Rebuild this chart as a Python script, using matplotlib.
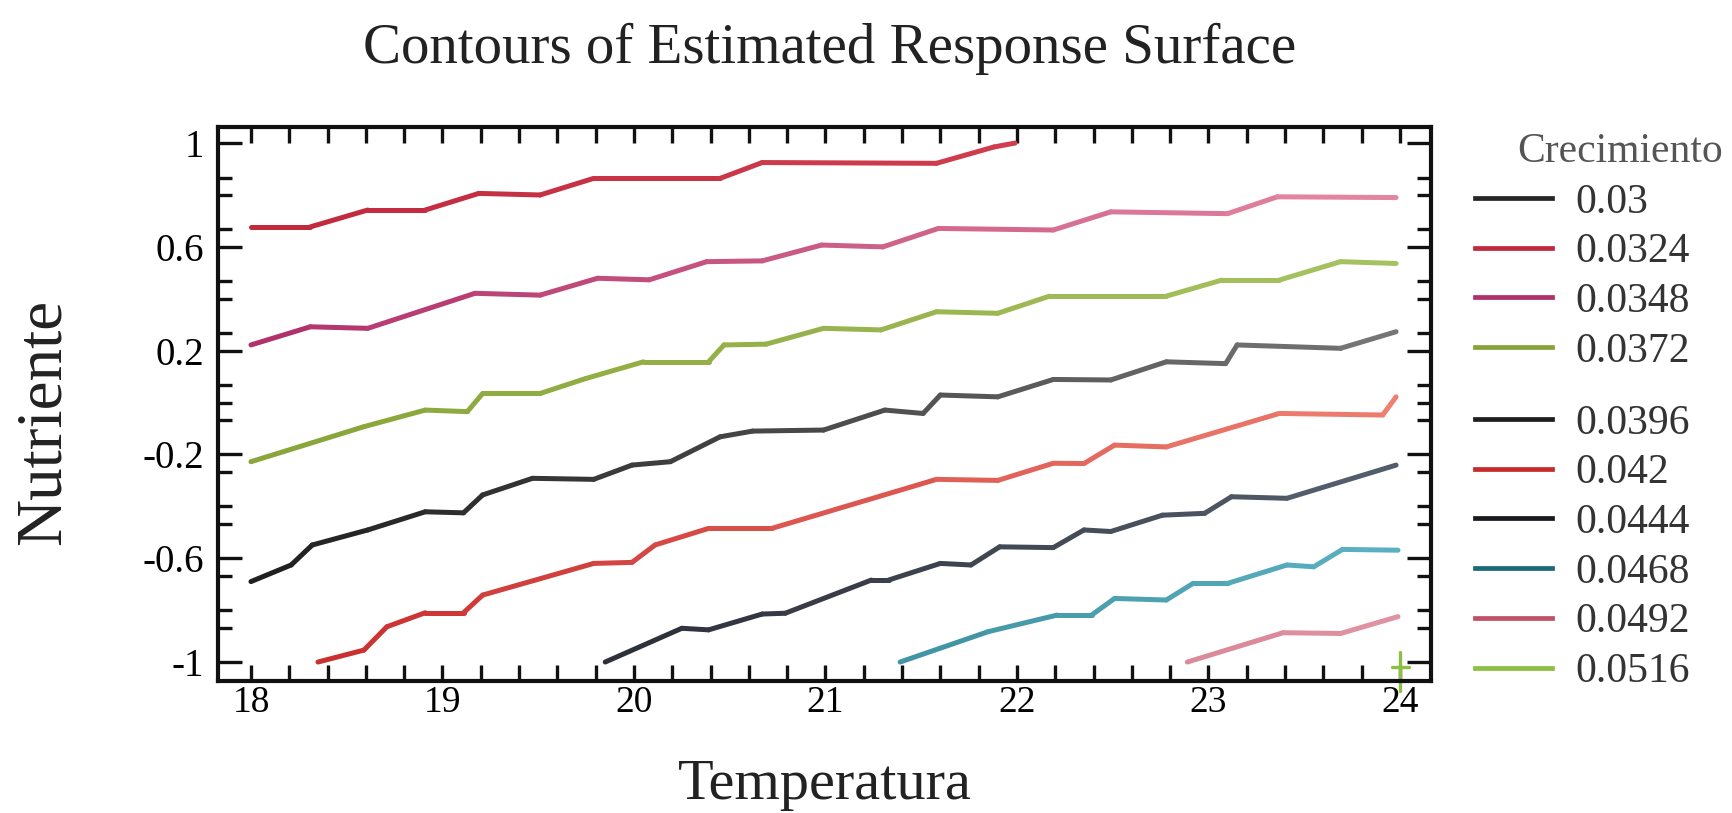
import matplotlib
matplotlib.use("Agg")
import matplotlib.pyplot as plt
import matplotlib.colors as mcolors
from matplotlib.collections import LineCollection
from matplotlib.lines import Line2D
import numpy as np

plt.rcParams["font.family"] = ["Liberation Serif", "DejaVu Serif"]

# contour levels (legend), shown in two blocks like the scan
levels_top = ["0.03", "0.0324", "0.0348", "0.0372"]
levels_bottom = ["0.0396", "0.042", "0.0444", "0.0468", "0.0492", "0.0516"]

# contour lines (Temperatura, Nutriente)
x_0324 = [18.0, 18.31, 18.61, 18.91, 19.19, 19.51, 19.79, 20.45, 20.67, 21.58, 21.88, 21.99]
y_0324 = [0.677, 0.677, 0.742, 0.742, 0.806, 0.80, 0.864, 0.864, 0.925, 0.922, 0.985, 1.0]

x_0348 = [18.0, 18.31, 18.61, 19.17, 19.51, 19.81, 20.08, 20.38, 20.67, 20.98, 21.30,
          21.59, 22.19, 22.49, 23.10, 23.36, 23.98]
y_0348 = [0.222, 0.292, 0.286, 0.421, 0.414, 0.479, 0.473, 0.543, 0.546, 0.607, 0.60,
          0.671, 0.665, 0.735, 0.728, 0.793, 0.79]

x_0372 = [18.0, 18.59, 18.91, 19.13, 19.21, 19.51, 19.75, 20.05, 20.39, 20.47, 20.69,
          20.99, 21.29, 21.58, 21.90, 22.17, 22.78, 23.07, 23.37, 23.69, 23.98]
y_0372 = [-0.228, -0.093, -0.029, -0.035, 0.035, 0.035, 0.093, 0.157, 0.157, 0.222, 0.225,
          0.286, 0.28, 0.35, 0.344, 0.41, 0.41, 0.472, 0.472, 0.543, 0.536]

x_0396 = [18.0, 18.21, 18.32, 18.61, 18.91, 19.11, 19.21, 19.47, 19.79, 19.99, 20.19,
          20.45, 20.62, 20.99, 21.31, 21.51, 21.60, 21.90, 22.19, 22.49, 22.78, 23.09,
          23.15, 23.69, 23.98]
y_0396 = [-0.69, -0.626, -0.549, -0.491, -0.421, -0.425, -0.356, -0.292, -0.296, -0.241, -0.228,
          -0.132, -0.11, -0.106, -0.029, -0.042, 0.029, 0.022, 0.089, 0.087, 0.157, 0.15,
          0.222, 0.209, 0.273]

x_0420 = [18.35, 18.59, 18.71, 18.91, 19.11, 19.21, 19.79, 19.99, 20.11, 20.39, 20.72,
          21.58, 21.90, 22.19, 22.35, 22.51, 22.78, 23.37, 23.91, 23.98]
y_0420 = [-1.0, -0.954, -0.864, -0.81, -0.81, -0.742, -0.62, -0.616, -0.549, -0.485, -0.485,
          -0.296, -0.30, -0.234, -0.235, -0.164, -0.171, -0.042, -0.048, 0.022]

x_0444 = [19.85, 20.25, 20.39, 20.67, 20.79, 21.24, 21.33, 21.60, 21.76, 21.91, 22.19,
          22.35, 22.49, 22.76, 22.98, 23.12, 23.41, 23.98]
y_0444 = [-1.0, -0.87, -0.876, -0.815, -0.812, -0.684, -0.684, -0.62, -0.626, -0.556, -0.559,
          -0.491, -0.497, -0.434, -0.427, -0.363, -0.369, -0.241]

x_0468 = [21.39, 21.85, 22.21, 22.39, 22.51, 22.78, 22.92, 23.10, 23.41, 23.55, 23.70, 23.99]
y_0468 = [-1.0, -0.883, -0.819, -0.819, -0.755, -0.761, -0.697, -0.697, -0.626, -0.633,
          -0.566, -0.569]

x_0492 = [22.89, 23.39, 23.69, 23.99]
y_0492 = [-1.0, -0.887, -0.89, -0.825]

# tiny mark of the last level in the lower right corner
x_0516_v = [24.0, 24.0]
y_0516_v = [-0.96, -1.11]
x_0516_h = [23.96, 24.05]
y_0516_h = [-1.02, -1.02]

x_ticks = [18, 19, 20, 21, 22, 23, 24]
y_ticks = [1, 0.6, 0.2, -0.2, -0.6, -1]
y_ticklabels = ["1", "0.6", "0.2", "-0.2", "-0.6", "-1"]

# colours: (left end, right end) of every line, scanned lines fade to the right
line_colors = {
    "0.03": ("#262626", "#262626"),
    "0.0324": ("#c0283c", "#d84a58"),
    "0.0348": ("#b0306a", "#e68aa2"),
    "0.0372": ("#88a438", "#a8c262"),
    "0.0396": ("#1e1e1e", "#777777"),
    "0.042": ("#c62a2a", "#ee8072"),
    "0.0444": ("#18181f", "#56606e"),
    "0.0468": ("#1a6a78", "#5cb2c2"),
    "0.0492": ("#c05068", "#e094a4"),
    "0.0516": ("#8cc040", "#8cc040"),
}


def draw_line(ax, xs, ys, level, lw=3.6):
    c0 = np.array(mcolors.to_rgb(line_colors[level][0]))
    c1 = np.array(mcolors.to_rgb(line_colors[level][1]))
    pts = np.column_stack([xs, ys])
    segs = np.stack([pts[:-1], pts[1:]], axis=1)
    mid = (segs[:, 0, 0] + segs[:, 1, 0]) / 2
    t = np.clip((mid - 18) / 6, 0, 1)[:, None]
    cols = c0 * (1 - t) + c1 * t
    lc = LineCollection(segs, colors=cols, linewidths=lw, capstyle="round",
                        joinstyle="round", clip_on=False)
    ax.add_collection(lc)


def add_legend(fig, levels, top_px):
    handles = [Line2D([], [], color=line_colors[lv][0], lw=3.4) for lv in levels]
    leg = fig.legend(handles, levels, loc="upper left",
                     bbox_to_anchor=(1475 / 1733, 1 - top_px / 813),
                     bbox_transform=fig.transFigure, frameon=False, fontsize=30,
                     handlelength=1.85, handletextpad=0.55, labelspacing=0.27,
                     borderpad=0, borderaxespad=0, labelcolor="#333333")
    return leg


fig = plt.figure(figsize=(17.33, 8.13), dpi=100)
ax = fig.add_axes([0.1258, 0.1624, 0.6999, 0.6814])

draw_line(ax, x_0324, y_0324, "0.0324")
draw_line(ax, x_0348, y_0348, "0.0348")
draw_line(ax, x_0372, y_0372, "0.0372")
draw_line(ax, x_0396, y_0396, "0.0396")
draw_line(ax, x_0420, y_0420, "0.042")
draw_line(ax, x_0444, y_0444, "0.0444")
draw_line(ax, x_0468, y_0468, "0.0468")
draw_line(ax, x_0492, y_0492, "0.0492")
draw_line(ax, x_0516_v, y_0516_v, "0.0516", lw=2.4)
draw_line(ax, x_0516_h, y_0516_h, "0.0516", lw=2.4)

ax.set_xlim(17.828, 24.162)
ax.set_ylim(-1.073, 1.062)

for s in ax.spines.values():
    s.set_linewidth(3.0)
    s.set_color("#111111")

ax.set_xticks(x_ticks)
ax.set_xticklabels([str(v) for v in x_ticks])
ax.set_xticks(np.arange(18.0, 24.01, 0.2), minor=True)
ax.set_yticks(y_ticks)
ax.set_yticklabels(y_ticklabels)
y_minor = [0.867, 0.8, 0.667, 0.467, 0.4, 0.267, 0.067, 0.0, -0.067, -0.267, -0.4,
           -0.467, -0.667, -0.8, -0.867]
ax.set_yticks(y_minor, minor=True)

ax.tick_params(axis="x", which="both", direction="in", top=True, bottom=True,
               length=11.5, width=2.4, labelsize=27, pad=3, color="#111111")
ax.tick_params(axis="y", which="major", direction="in", left=True, right=True,
               length=17, width=2.4, labelsize=28, pad=10, color="#111111")
ax.tick_params(axis="y", which="minor", direction="in", left=True, right=True,
               length=10, width=2.4, color="#111111")

fig.text(0.479, 1 - 63 / 813, "Contours of Estimated Response Surface",
         fontsize=41, ha="center", va="baseline", color="#222222")
fig.text(0.4758, 1 - 799 / 813, "Temperatura", fontsize=42, ha="center",
         va="baseline", color="#222222")
fig.text(44 / 1733, 1 - 422 / 813, "Nutriente", fontsize=47, ha="center",
         va="center", rotation=90, color="#222222")

add_legend(fig, levels_top, 183)
add_legend(fig, levels_bottom, 404)
fig.text(1620 / 1733, 1 - 162 / 813, "Crecimiento", fontsize=30, ha="center",
         va="baseline", color="#555555")

fig.savefig("out.png", dpi=100)
